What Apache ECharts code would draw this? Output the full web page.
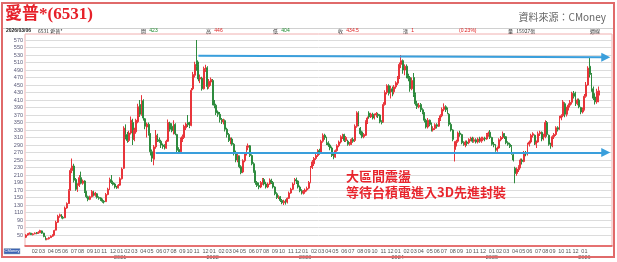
<!DOCTYPE html>
<html><head><meta charset="utf-8">
<script src="https://cdn.jsdelivr.net/npm/echarts@6/dist/echarts.min.js"></script>
<style>html,body{margin:0;padding:0;background:#fff}#c{width:617px;height:262px}</style>
</head><body><div id="c"></div>
<script>
// weekly candles [open, close, low, high], week ending Friday, first week 2020-01-03
const firstFriday = '2020-01-03';
const y2020 = [[44,50,42,52],[50,53,48,55],[53,55,51,57],[55,51,50,56],[51,53,49,55],[53,55,52,57],[55,54,52,58],[54,57,53,60],[56,62,55,64],[61,55,53,62],
[55,46,44,56],[46,39,36,47],[39,40,36,42],[40,43,38,45],[43,47,42,49],[47,50,45,52],[50,62,49,64],[63,84,62,88],[84,100,82,104],[100,104,96,107],
[104,96,94,106],[97,95,92,101],[96,122,95,126],[122,134,120,137],[134,168,133,172],[170,222,168,228],[222,234,215,254],[234,196,190,240],[198,172,168,202],[172,182,165,188],
[182,203,178,210],[203,188,185,219],[188,194,184,198],[194,166,162,196],[166,152,148,168],[152,145,140,155],[145,152,143,155],[152,166,150,170],[165,156,153,168],[156,162,152,165],
[160,150,147,162],[150,148,144,153],[149,144,141,151],[145,140,136,147],[140,138,134,143],[139,158,138,162],[158,172,156,176],[172,198,170,203],[198,190,186,210],[190,185,182,195],
[186,178,174,189],[178,176,173,181]];
const y2021 = [[176,183,174,186],[183,200,181,204],[200,226,198,230],[228,335,226,340],[338,318,305,345],[318,302,296,325],[302,322,298,328],[322,356,318,366],[350,305,290,360],[305,330,300,336],
[325,356,320,360],[352,392,348,400],[398,372,365,410],[372,410,368,423],[408,362,355,412],[360,340,332,362],[338,346,310,350],[345,320,315,350],[320,272,262,322],[272,255,245,278],
[252,285,236,290],[285,316,280,330],[315,302,298,320],[304,300,296,310],[300,290,282,304],[290,286,280,294],[288,282,278,292],[282,300,280,304],[300,350,298,358],[348,332,326,352],
[340,328,324,348],[326,345,318,356],[345,320,316,348],[318,276,268,320],[278,270,266,284],[272,305,270,310],[302,312,298,318],[310,340,306,344],[336,346,330,350],[350,344,338,370],
[346,340,335,352],[342,436,340,442],[440,478,436,485],[476,505,470,512],[515,500,488,570],[505,466,460,512],[466,470,455,478],[468,440,435,472],[440,494,438,499],[492,498,485,504],
[496,446,438,500],[446,460,440,466],[458,465,448,470]];
const y2022 = [[462,402,396,466],[402,396,388,410],[396,376,370,400],[378,372,365,382],[372,358,350,378],[358,352,346,362],[352,356,345,360],[355,332,326,358],[332,318,310,336],[318,302,298,322],
[302,306,292,310],[306,292,288,310],[292,270,262,295],[270,250,244,275],[250,262,244,266],[260,232,228,262],[232,216,212,236],[218,248,215,252],[248,266,244,270],[266,284,262,288],
[284,288,276,294],[288,262,258,290],[262,240,236,265],[240,220,216,244],[220,190,184,222],[190,182,178,194],[182,178,172,190],[178,190,175,194],[188,198,184,202],[198,186,182,202],
[186,178,174,192],[178,186,175,190],[186,196,184,201],[196,190,186,200],[190,178,174,194],[178,160,156,180],[160,150,146,164],[150,152,146,156],[152,142,138,154],[142,136,132,146],
[136,140,130,144],[140,138,131,145],[138,148,134,150],[148,162,146,166],[162,172,160,176],[172,186,170,190],[186,198,184,202],[198,194,186,203],[194,178,174,196],[178,168,164,182],
[168,162,158,172],[162,166,158,170]];
const y2023 = [[165,170,160,174],[170,174,166,179],[175,190,172,194],[190,230,188,234],[230,245,226,250],[240,254,234,258],[254,262,250,266],[262,275,258,279],[275,270,264,280],[270,300,268,304],
[300,316,296,321],[316,310,304,320],[308,295,290,312],[296,290,285,300],[290,282,276,294],[282,262,258,286],[262,258,252,266],[258,275,256,278],[275,288,272,292],[288,298,284,302],
[298,312,294,316],[312,316,306,320],[318,302,298,320],[302,310,298,314],[300,292,288,304],[292,294,288,298],[292,305,290,308],[305,300,296,310],[302,340,298,345],[340,376,336,380],
[376,345,340,380],[335,320,316,338],[325,312,308,328],[312,318,308,322],[316,352,314,356],[350,362,346,366],[375,365,360,380],[365,372,362,376],[372,362,358,376],[362,370,358,374],
[370,374,364,378],[372,368,362,376],[370,352,348,372],[352,350,345,356],[352,398,350,404],[398,430,395,436],[430,448,425,452],[448,428,422,452],[428,440,414,448],[440,432,420,446],
[432,445,425,450],[445,456,440,460]];
const y2024 = [[455,470,450,474],[470,505,466,510],[505,515,495,530],[515,490,480,518],[490,500,476,505],[500,475,468,505],[476,468,460,480],[470,440,432,474],[440,462,436,470],[470,425,418,482],
[425,400,395,430],[400,392,386,408],[392,396,388,402],[398,384,378,402],[384,376,372,388],[376,356,350,378],[356,338,334,360],[338,356,334,362],[356,345,340,358],[345,330,326,350],
[330,334,326,340],[334,344,330,348],[344,340,334,348],[340,358,338,362],[358,368,354,372],[368,385,364,390],[385,392,380,401],[392,384,378,396],[384,375,372,390],[372,345,340,375],
[345,330,326,350],[330,305,300,332],[278,290,246,300],[290,300,286,304],[300,322,296,326],[322,318,312,328],[318,296,292,320],[296,292,288,300],[290,298,284,302],[298,294,288,302],
[296,305,292,308],[305,308,300,312],[308,300,296,312],[300,304,296,310],[304,298,294,308],[298,306,294,310],[306,300,296,312],[300,308,296,312],[304,308,300,312],[308,306,300,312],
[306,318,304,322],[318,322,312,326]];
const y2025 = [[324,310,306,330],[310,292,288,312],[292,290,284,298],[290,276,272,292],[276,282,272,286],[282,304,280,308],[304,310,300,314],[310,320,306,326],[320,312,306,322],[312,296,292,314],
[296,292,288,300],[292,286,282,296],[286,268,264,290],[264,250,246,268],[228,214,188,232],[214,226,208,230],[224,232,218,236],[232,250,228,254],[250,246,238,254],[246,270,244,274],
[270,266,260,274],[266,292,262,296],[292,298,286,302],[298,316,294,320],[316,320,310,324],[316,298,290,318],[292,298,282,302],[298,320,296,326],[320,324,314,328],[324,306,300,326],
[306,316,302,320],[312,350,308,356],[350,318,312,354],[316,292,288,318],[292,288,280,296],[288,312,284,316],[312,318,306,322],[318,336,314,340],[336,332,326,340],[332,362,330,368],
[362,368,356,372],[368,405,364,410],[400,372,364,404],[372,386,366,392],[386,396,382,401],[396,404,390,410],[404,428,398,432],[428,420,414,434],[428,400,394,432],[400,410,396,414],
[410,392,388,414],[390,378,372,392]];
const y2026 = [[378,384,374,390],[384,420,382,426],[420,450,416,458],[450,495,448,500],[500,478,470,524],[478,440,432,482],[440,415,410,446],[418,405,398,428],[405,433.5,400,440],[423,434.5,404,446]];
const padWeeks = 7;
const yTicks = [50,70,90,110,130,150,170,190,210,230,250,270,290,310,330,350,370,390,410,430,450,470,490,510,530,550,570];
// arrows: [week index, price]
const upperArrow = [[97,528],[326,524]];
const lowerArrow = [[73,270],[326,270]];
const headerItems = [
  ['{b|2026/03/06}',6],['{d|6531 愛普*}',38],['{d|開} {g|423}',141],['{d|高} {r|446}',206],['{d|低} {g|404}',273],
  ['{d|收} {r|434.5}',338],['{d|漲} {r|1}',403],['{r|(0.23%)}',459],['{d|量} {d|15927張}',508],['{d|週線}',590]
];

const candles = [].concat(y2020,y2021,y2022,y2023,y2024,y2025,y2026);
const DAY = 864e5;
const t0 = Date.parse(firstFriday + 'T00:00:00Z');
const cats = [], mon = [];
for (let i = 0; i < candles.length + padWeeks; i++) {
  cats.push(new Date(t0 + i*7*DAY).toISOString().slice(0,10));
  const m = new Date(t0 + i*7*DAY - 4*DAY);
  mon.push([m.getUTCFullYear(), m.getUTCMonth()+1]);
}
const showLab = cats.map((c,i)=> i>2 && i < candles.length-1 && mon[i][1] !== mon[i-1][1]);

const chart = echarts.init(document.getElementById('c'), null, {renderer:'canvas'});
const F = "'Liberation Sans', Arial, sans-serif";
const CJK = "'Noto Sans CJK TC', 'Noto Sans', sans-serif";
const graphics = [
  {type:'rect', shape:{x:2,y:3,width:612,height:254}, style:{fill:'none', stroke:'#e06a6a', lineWidth:2}, z:100},
  {type:'line', shape:{x1:3,y1:28.5,x2:613,y2:28.5}, style:{stroke:'#d0d0d0', lineWidth:1}},
  {type:'text', x:5, y:6, style:{text:'愛普*(6531)', fill:'#e6212a', font:"bold 17px 'Liberation Serif', 'Noto Sans CJK TC', serif"}},
  {type:'text', x:606, y:12, style:{text:'資料來源：CMoney', fill:'#666', font:"10px "+CJK, align:'right'}},
  {type:'text', x:346, y:167.5, style:{text:'大區間震盪\n等待台積電進入3D先進封裝', fill:'#e8262e', font:"bold 13px "+CJK, lineHeight:16.5}, z:50},
  {type:'rect', shape:{x:4,y:248.5,width:16,height:5.5}, style:{fill:'#3c64b4', stroke:'#9ab', lineWidth:0.5}},
  {type:'text', x:12, y:251.3, style:{text:'CMoney', fill:'#fff', font:"4px "+F, align:'center', verticalAlign:'middle'}}
];
headerItems.forEach(h => graphics.push({type:'text', x:h[1], y:31, style:{text:h[0], verticalAlign:'middle', rich:{
  b:{fontSize:5, fontWeight:'bold', fill:'#222', fontFamily:F},
  d:{fontSize:5, fill:'#333', fontFamily:CJK},
  g:{fontSize:5, fill:'#1a8a2a', fontFamily:F},
  r:{fontSize:5, fill:'#e02020', fontFamily:F}}}}));

const arrowLine = (a) => [{coord:[cats[a[0][0]], a[0][1]]},{coord:[cats[a[1][0]], a[1][1]]}];

chart.setOption({
  animation:false,
  grid:{left:25, right:5, top:34, bottom:16, show:true, borderColor:'#f0b0b0', borderWidth:1},
  xAxis:{type:'category', data:cats, boundaryGap:true,
    axisLine:{lineStyle:{color:'#e05050', width:1.5}},
    axisTick:{interval:(i)=>showLab[i], alignWithLabel:true, inside:true, length:2, lineStyle:{color:'#e05050'}},
    axisLabel:{interval:(i)=>showLab[i], margin:2, fontSize:5.5, lineHeight:6, color:'#555', fontFamily:F,
      formatter:(v,i)=>{const m=mon[i]; const s=(m[1]<10?'0':'')+m[1]; return m[1]===1 ? s+'\n'+m[0] : s;}},
    splitLine:{show:false}},
  yAxis:{type:'value', min:20.667, max:586, scale:true,
    axisLine:{show:false},
    axisTick:{show:false, customValues:yTicks},
    axisLabel:{customValues:yTicks, fontSize:5.5, color:'#5a5a78', margin:2, fontFamily:F},
    splitLine:{show:true, lineStyle:{color:'#dcdcdc', width:1}}},
  graphic:graphics,
  series:[{type:'candlestick', data:candles, barWidth:1.4,
    itemStyle:{color:'#e8353b', color0:'#2e8b3e', borderColor:'#e8353b', borderColor0:'#2e8b3e', borderWidth:1},
    markLine:{silent:true, symbol:['none','triangle'], symbolSize:9, label:{show:false},
      lineStyle:{color:'#3a9fdc', width:2, type:'solid'},
      data:[arrowLine(upperArrow), arrowLine(lowerArrow)]}
  }]
});
</script></body></html>
